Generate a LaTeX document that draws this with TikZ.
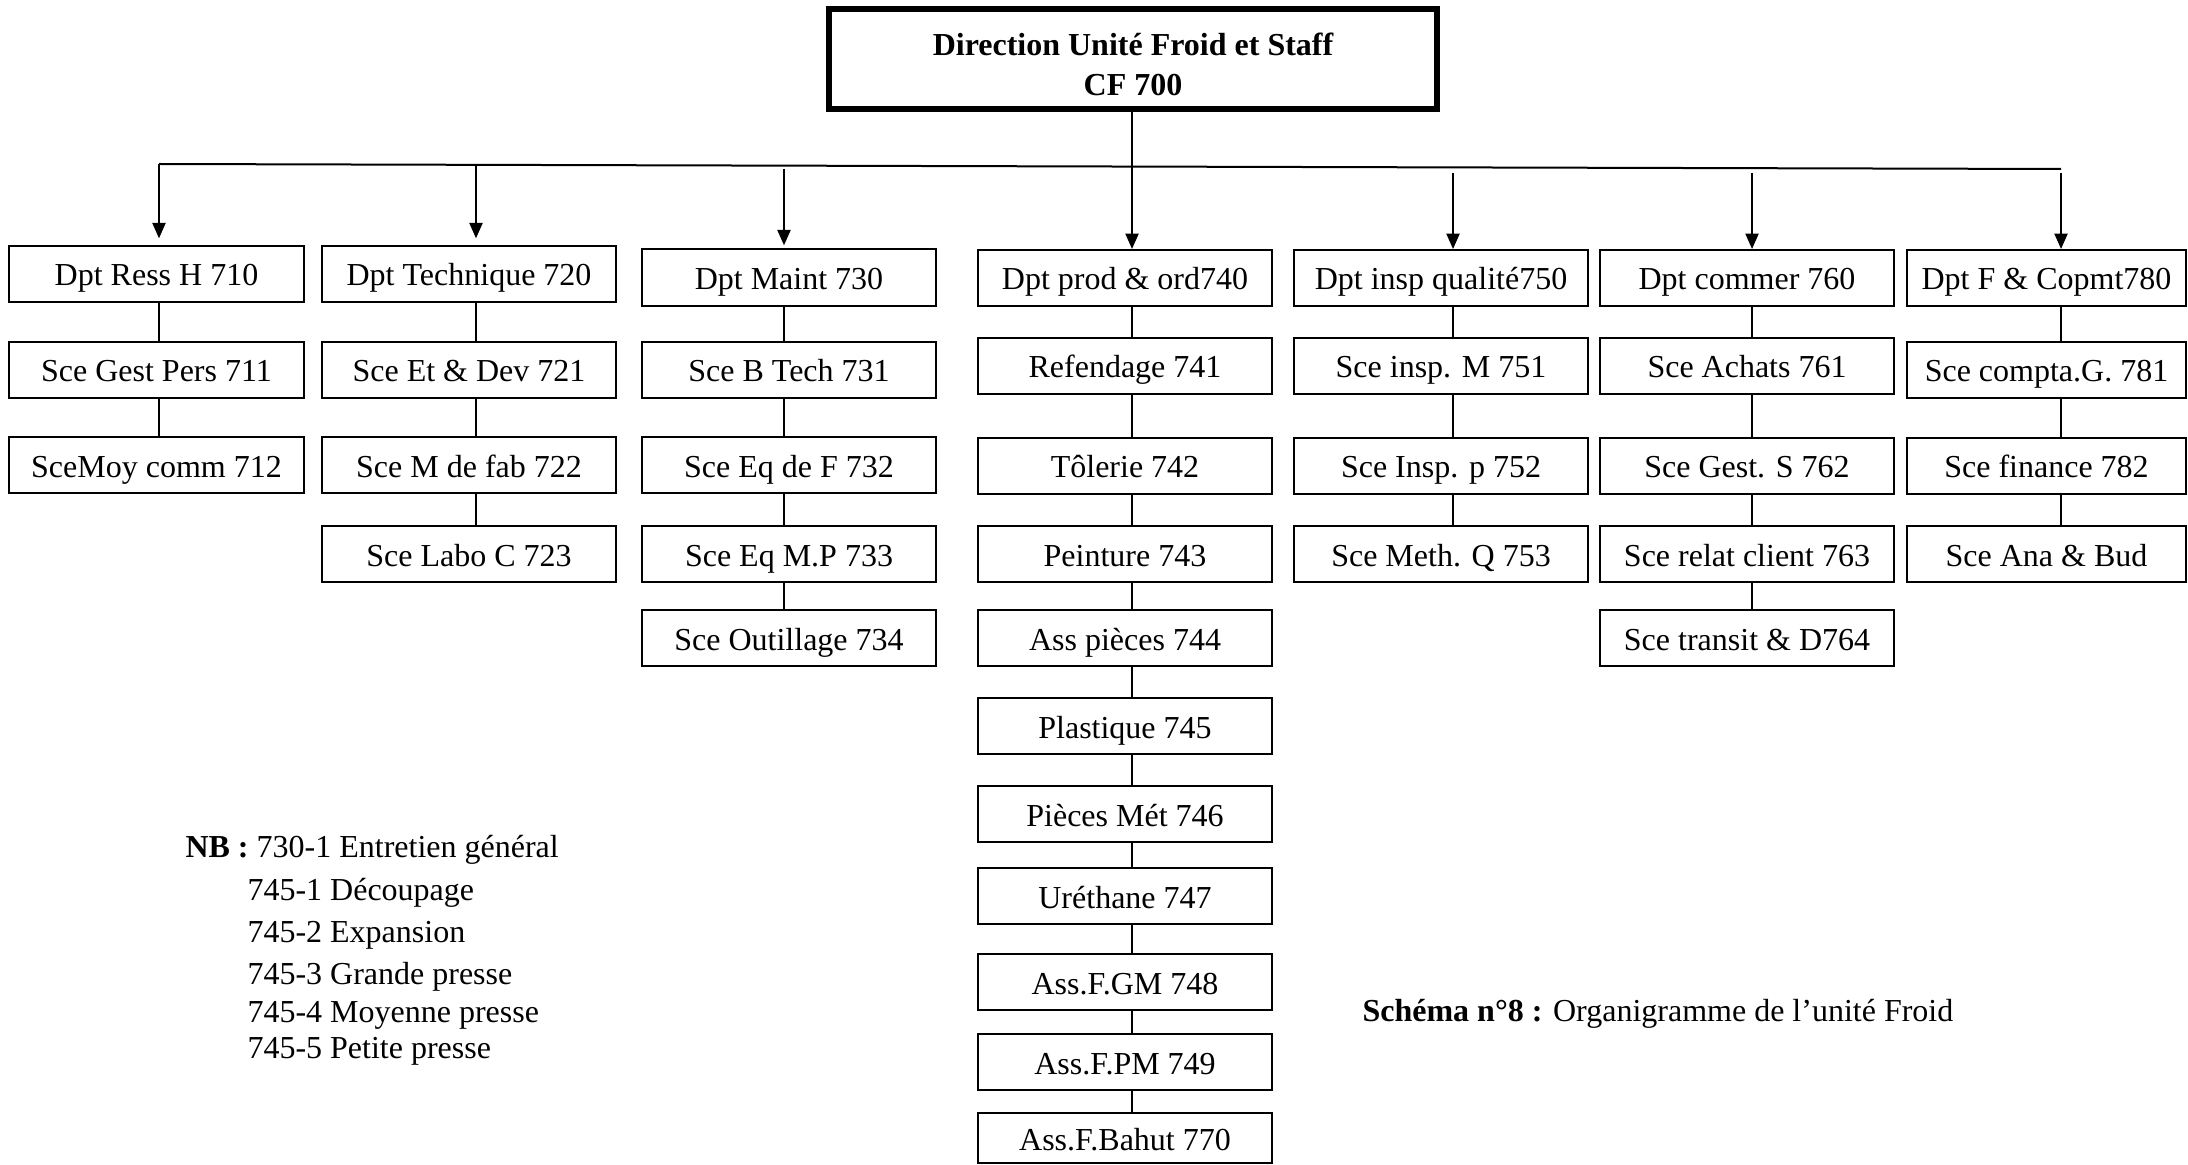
\documentclass[tikz,border=0pt]{standalone}
\usepackage{fontspec}
\setmainfont{Liberation Serif}
\usetikzlibrary{arrows.meta}
\begin{document}
\begin{tikzpicture}[x=0.375pt, y=-0.375pt,
  unitfont/.style={font=\fontsize{12}{14}\selectfont},
  box/.style={draw, line width=0.75pt, inner sep=0pt, unitfont,
              text height=12pt, text depth=3pt,
              minimum height=56*0.375pt, minimum width=294*0.375pt},
  narrow/.style={minimum width=279*0.375pt},
  wide/.style={minimum width=295*0.375pt},
  headbox/.style={draw, line width=2.25pt, inner sep=0pt,
              minimum width=608*0.375pt, minimum height=100*0.375pt},
  headtext/.style={inner sep=0pt, align=center,
              font=\bfseries\fontsize{12}{15}\selectfont},
  link/.style={line width=0.5pt},
  bus/.style={line width=0.75pt},
  feed/.style={line width=0.8pt, -{Triangle[width=4.9pt,length=5.8pt]}},
  note/.style={inner sep=0pt, unitfont, anchor=base west}]

\useasboundingbox (0,0) rectangle (2188,1165);

% column axes for the connectors
\coordinate (x1) at (159,0);
\coordinate (x2) at (476,0);
\coordinate (x3) at (784,0);
\coordinate (x4) at (1132,0);
\coordinate (x5) at (1453,0);
\coordinate (x6) at (1752,0);
\coordinate (x7) at (2061,0);

% head of the unit
\node[headbox] (top) at (1133,59) {};
\node[headtext] (toplabel) at (1133,64) {Direction Unité Froid et Staff\\CF 700};

% distribution bus
\coordinate (hl) at (159,164);
\coordinate (hr) at (2061,169);
\draw[bus] (hl) -- (hr);
\coordinate (t2) at (476,164.8);
\coordinate (t3) at (784,169);
\coordinate (t4) at (1132,166.6);
\coordinate (t5) at (1453,173);
\coordinate (t6) at (1752,173);
\coordinate (t7) at (2061,173);

% departments
\node[box, wide] (d1) at (156.5,274) {Dpt Ress H 710};
\node[box] (d2) at (469,274) {Dpt Technique 720};
\node[box, minimum height=57*0.375pt] (d3) at (789,277.5) {Dpt Maint 730};
\node[box] (d4) at (1125,278) {Dpt prod \& ord740};
\node[box] (d5) at (1441,278) {Dpt insp qualité750};
\node[box] (d6) at (1747,278) {Dpt commer 760};
\node[box, narrow] (d7) at (2046.5,278) {Dpt F \& Copmt780};

% column 1
\node[box, wide] (s11) at (156.5,370) {Sce Gest Pers 711};
\node[box, wide] (s12) at (156.5,465) {SceMoy comm 712};

% column 2
\node[box] (s21) at (469,370) {Sce Et \& Dev 721};
\node[box] (s22) at (469,465) {Sce M de fab 722};
\node[box] (s23) at (469,554) {Sce Labo C 723};

% column 3
\node[box] (s31) at (789,370) {Sce B Tech 731};
\node[box] (s32) at (789,465) {Sce Eq de F 732};
\node[box] (s33) at (789,554) {Sce Eq M.P 733};
\node[box] (s34) at (789,638) {Sce Outillage 734};

% column 4
\node[box] (s41) at (1125,366) {Refendage 741};
\node[box] (s42) at (1125,465.5) {Tôlerie 742};
\node[box] (s43) at (1125,554) {Peinture 743};
\node[box] (s44) at (1125,638) {Ass pièces 744};
\node[box] (s45) at (1125,726) {Plastique 745};
\node[box] (s46) at (1125,814) {Pièces Mét 746};
\node[box] (s47) at (1125,896) {Uréthane 747};
\node[box] (s48) at (1125,982) {Ass.F.GM 748};
\node[box] (s49) at (1125,1062) {Ass.F.PM 749};
\node[box, minimum height=50*0.375pt] (s410) at (1125,1138) {Ass.F.Bahut 770};

% column 5
\node[box] (s51) at (1441,366) {Sce insp. M 751};
\node[box] (s52) at (1441,465.5) {Sce Insp. p 752};
\node[box] (s53) at (1441,554) {Sce Meth. Q 753};

% column 6
\node[box] (s61) at (1747,366) {Sce Achats 761};
\node[box] (s62) at (1747,465.5) {Sce Gest. S 762};
\node[box] (s63) at (1747,554) {Sce relat client 763};
\node[box] (s64) at (1747,638) {Sce transit \& D764};

% column 7
\node[box, narrow] (s71) at (2046.5,370) {Sce compta.G. 781};
\node[box, narrow] (s72) at (2046.5,465.5) {Sce finance 782};
\node[box, narrow] (s73) at (2046.5,554) {Sce Ana \& Bud};

% head to bus, bus to departments
\draw[link] (top.south -| x4) -- (t4);
\draw[feed, shorten >=2.5pt] (hl) -- (d1.north -| x1);
\draw[feed, shorten >=2.5pt] (t2) -- (d2.north -| x2);
\draw[feed, shorten >=1pt] (t3) -- (d3.north -| x3);
\draw[feed] (t4) -- (d4.north -| x4);
\draw[feed] (t5) -- (d5.north -| x5);
\draw[feed] (t6) -- (d6.north -| x6);
\draw[feed] (t7) -- (d7.north -| x7);

% chains inside each column
\foreach \a/\b/\c in {d1/s11/x1, s11/s12/x1,
                      d2/s21/x2, s21/s22/x2, s22/s23/x2,
                      d3/s31/x3, s31/s32/x3, s32/s33/x3, s33/s34/x3,
                      d4/s41/x4, s41/s42/x4, s42/s43/x4, s43/s44/x4, s44/s45/x4,
                      s45/s46/x4, s46/s47/x4, s47/s48/x4, s48/s49/x4, s49/s410/x4,
                      d5/s51/x5, s51/s52/x5, s52/s53/x5,
                      d6/s61/x6, s61/s62/x6, s62/s63/x6, s63/s64/x6,
                      d7/s71/x7, s71/s72/x7, s72/s73/x7}
  \draw[link] (\a.south -| \c) -- (\b.north -| \c);

% notes
\node[note] (nb0) at (185,857) {\textbf{NB :} 730-1 Entretien général};
\node[note] (nb1) at (247,900) {745-1 Découpage};
\node[note] (nb2) at (247,942) {745-2 Expansion};
\node[note] (nb3) at (247,984) {745-3 Grande presse};
\node[note] (nb4) at (247,1022) {745-4 Moyenne presse};
\node[note] (nb5) at (247,1058) {745-5 Petite presse};

% caption
\node[note] (cap) at (1362,1021) {\textbf{Schéma n°8 :} Organigramme de l’unité Froid};
\end{tikzpicture}
\end{document}
